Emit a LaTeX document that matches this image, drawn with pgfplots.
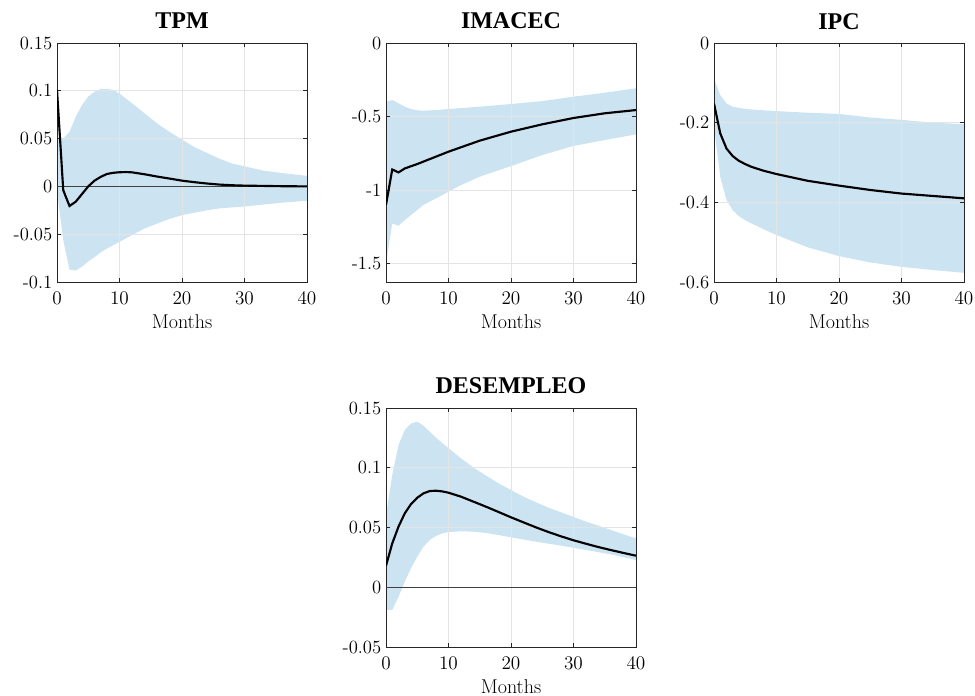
\documentclass[border=0pt]{standalone}
\usepackage{fontspec}
\usepackage{pgfplots}
\pgfplotsset{compat=1.18}
\newfontfamily\titlefont{Liberation Serif}
\definecolor{bandblue}{RGB}{204,227,242}
\definecolor{gridgray}{RGB}{228,228,228}
\definecolor{axgray}{RGB}{38,38,38}

\pgfplotsset{irf/.style={
  set layers, scale only axis, width=187.5pt, height=179.25pt, anchor=south west,
  xmin=0, xmax=40, xtick={0,10,20,30,40},
  grid=major, major grid style={gridgray, line width=0.5pt},
  axis line style={axgray, line width=0.6pt},
  tick align=inside, major tick length=3pt, tick style={axgray, line width=0.5pt},
  ticklabel style={font=\fontsize{14}{16}\selectfont},
  xticklabel style={yshift=-4pt},
  xlabel={Months}, xlabel style={font=\fontsize{15}{17}\selectfont, yshift=-1pt},
  title style={font=\titlefont\bfseries\fontsize{18}{20}\selectfont,
    at={(0.5,1)}, anchor=base, yshift=4.5pt},
  band/.style={fill=bandblue, draw=none, on layer=axis background},
}}

\begin{document}
\begin{tikzpicture}

% TPM
\begin{axis}[irf, at={(42.75pt,310.5pt)}, title={TPM},
  ymin=-0.1, ymax=0.15, ytick={-0.1,-0.05,0,0.05,0.1,0.15},
  yticklabels={-0.1,-0.05,0,0.05,0.1,0.15}]
% band: upper bound forward, lower bound backward
\addplot[band] coordinates {
  (0,0.049)(1,0.050)(2,0.057)(3,0.073)(4,0.085)(5,0.094)(6,0.099)(7,0.102)
  (8,0.102)(9,0.101)(10,0.097)(12,0.087)(14,0.0765)(16,0.066)(18,0.057)
  (20,0.049)(22,0.041)(24,0.035)(26,0.029)(28,0.024)(30,0.021)(33,0.0165)
  (36,0.014)(40,0.011)
  (40,-0.015)(36,-0.017)(33,-0.019)(30,-0.021)(28,-0.022)(26,-0.023)
  (24,-0.025)(22,-0.0275)(20,-0.030)(18,-0.034)(16,-0.039)(14,-0.044)
  (12,-0.051)(10,-0.058)(8,-0.065)(7,-0.069)(6,-0.074)(5,-0.0786)
  (4,-0.084)(3,-0.088)(2,-0.087)(1,-0.056)(0,-0.005)} -- cycle;
\addplot[black!75, line width=0.8pt] coordinates {(0,0)(40,0)};
\addplot[black, line width=1.6pt] coordinates {
  (0,0.101)(1,-0.004)(2,-0.0205)(3,-0.016)(4,-0.008)(5,0)(6,0.006)(7,0.010)
  (8,0.013)(9,0.0142)(10,0.0148)(11,0.015)(12,0.0147)(14,0.0127)(16,0.0103)
  (18,0.0082)(20,0.006)(22,0.0044)(24,0.003)(26,0.0019)(28,0.0012)(30,0.0008)
  (33,0.0005)(36,0.0002)(40,0)};
\end{axis}

% IMACEC
\begin{axis}[irf, at={(289.5pt,310.5pt)}, title={IMACEC},
  ymin=-1.625, ymax=0, ytick={-1.5,-1,-0.5,0},
  yticklabels={-1.5,-1,-0.5,0}]
\addplot[band] coordinates {
  (0,-0.399)(1,-0.388)(2,-0.41)(3,-0.433)(4,-0.449)(5,-0.458)(6,-0.46)
  (8,-0.456)(10,-0.449)(15,-0.433)(20,-0.415)(25,-0.395)(30,-0.365)
  (35,-0.338)(40,-0.308)
  (40,-0.621)(35,-0.66)(30,-0.70)(25,-0.762)(20,-0.837)(15,-0.909)
  (12,-0.966)(10,-1.011)(8,-1.057)(6,-1.10)(5,-1.136)(4,-1.17)(3,-1.204)
  (2,-1.243)(1,-1.227)(0,-1.50)} -- cycle;
\addplot[black, line width=1.6pt] coordinates {
  (0,-1.10)(1,-0.86)(2,-0.88)(3,-0.853)(5,-0.823)(10,-0.739)(15,-0.664)
  (20,-0.603)(25,-0.553)(30,-0.51)(35,-0.478)(40,-0.456)};
\end{axis}

% IPC
\begin{axis}[irf, at={(535.5pt,310.5pt)}, title={IPC},
  ymin=-0.6, ymax=0, ytick={-0.6,-0.4,-0.2,0},
  yticklabels={-0.6,-0.4,-0.2,0}]
\addplot[band] coordinates {
  (0,-0.089)(1,-0.131)(2,-0.152)(3,-0.16)(4,-0.163)(6,-0.167)(10,-0.171)
  (15,-0.175)(20,-0.178)(25,-0.187)(30,-0.193)(35,-0.2)(40,-0.204)
  (40,-0.577)(35,-0.57)(30,-0.562)(25,-0.551)(20,-0.535)(15,-0.513)
  (10,-0.482)(8,-0.468)(6,-0.453)(5,-0.445)(4,-0.435)(3,-0.42)(2,-0.394)
  (1,-0.336)(0,-0.21)} -- cycle;
\addplot[black, line width=1.6pt] coordinates {
  (0,-0.152)(1,-0.227)(2,-0.265)(3,-0.284)(4,-0.296)(5,-0.304)(6,-0.311)
  (8,-0.321)(10,-0.329)(15,-0.346)(20,-0.358)(25,-0.369)(30,-0.378)
  (35,-0.384)(40,-0.39)};
\end{axis}

% DESEMPLEO
\begin{axis}[irf, at={(289.5pt,36.75pt)}, title={DESEMPLEO},
  ymin=-0.05, ymax=0.15, ytick={-0.05,0,0.05,0.1,0.15},
  yticklabels={-0.05,0,0.05,0.1,0.15}]
\addplot[band] coordinates {
  (0,0.060)(1,0.094)(2,0.119)(3,0.1316)(4,0.137)(5,0.1386)(6,0.1352)
  (7,0.1302)(8,0.1252)(10,0.1163)(12,0.1079)(14,0.1001)(16,0.0934)
  (18,0.0870)(20,0.0814)(22,0.0758)(24,0.0711)(26,0.0666)(28,0.0627)
  (30,0.0588)(32,0.0549)(34,0.0515)(36,0.0479)(38,0.0443)(40,0.0409)
  (40,0.0228)(36,0.0275)(32,0.0312)(28,0.0348)(24,0.0381)(20,0.0418)
  (18,0.0437)(16,0.0454)(14,0.0465)(12,0.0468)(10,0.0462)(9,0.0451)
  (8,0.0429)(7,0.0395)(6,0.034)(5,0.0256)(4,0.0158)(3,0.0047)(2,-0.008)
  (1,-0.019)(0,-0.019)} -- cycle;
\addplot[black!75, line width=0.8pt] coordinates {(0,0)(40,0)};
\addplot[black, line width=1.6pt] coordinates {
  (0,0.018)(1,0.0367)(2,0.0507)(3,0.0618)(4,0.0696)(5,0.0749)(6,0.0786)
  (7,0.0805)(8,0.0808)(9,0.0802)(10,0.0791)(12,0.0758)(14,0.0716)
  (16,0.0674)(18,0.063)(20,0.0585)(22,0.0543)(24,0.0501)(26,0.0462)
  (28,0.0426)(30,0.0393)(32,0.0364)(34,0.0336)(36,0.0311)(38,0.0287)
  (40,0.0264)};
\end{axis}

% fix the page to the reference's proportions
\pgfresetboundingbox
\useasboundingbox (0,0) rectangle (731.25pt,522pt);
\end{tikzpicture}
\end{document}
